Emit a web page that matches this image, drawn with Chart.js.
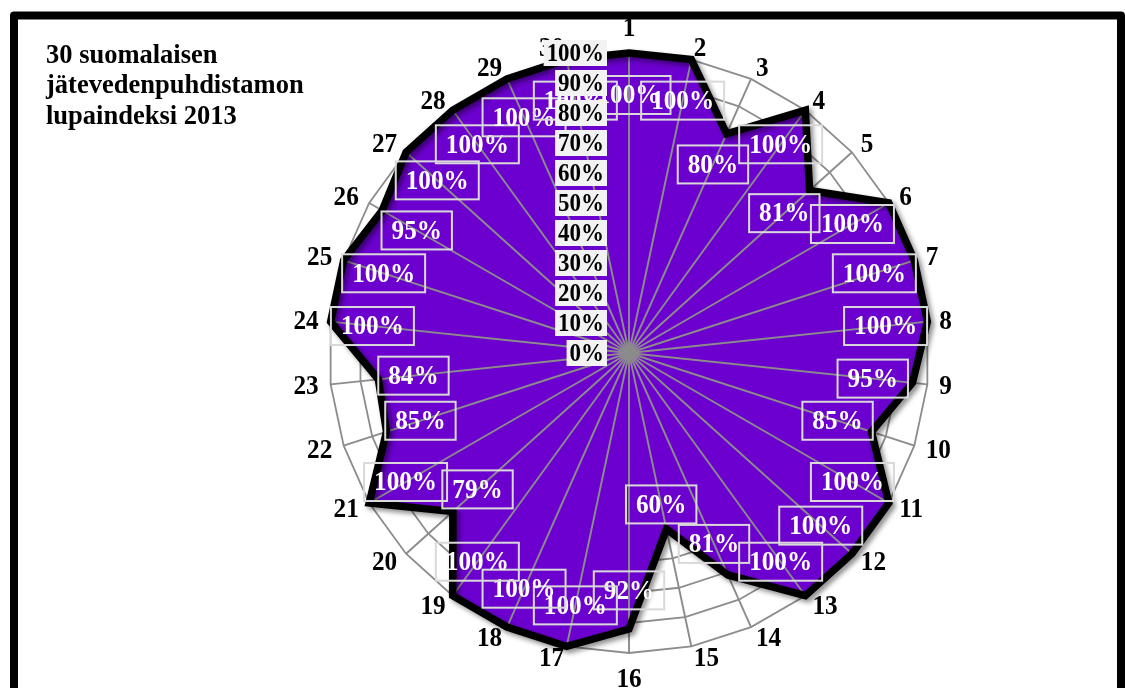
<!DOCTYPE html>
<html>
<head>
<meta charset="utf-8">
<script src="https://cdn.jsdelivr.net/npm/chart.js@4.4.0/dist/chart.umd.min.js"></script>
<style>
html,body{margin:0;padding:0;background:#ffffff;overflow:hidden;}
#wrap{width:1125px;height:688px;position:relative;}
</style>
</head>
<body>
<div id="wrap"><canvas id="c" width="1125" height="688"></canvas></div>
<script>
// ---- data ----
const categories = ['1','2','3','4','5','6','7','8','9','10','11','12','13','14','15',
                    '16','17','18','19','20','21','22','23','24','25','26','27','28','29','30'];
const values = [100,100,80,100,81,100,100,100,95,85,100,100,100,81,60,
                92,100,100,100,79,100,85,84,100,100,95,100,100,100,100];
const tickValues = [0,10,20,30,40,50,60,70,80,90,100];
const tickLabels = ['0%','10%','20%','30%','40%','50%','60%','70%','80%','90%','100%'];
const titleLines = ['30 suomalaisen','jätevedenpuhdistamon','lupaindeksi 2013'];

const SERIF = '"Liberation Serif", "Times New Roman", serif';
const PURPLE = '#6c00cf';
const GRID = '#8c8c8c';

function textWidth(ctx, txt, size, sx) {
  ctx.save();
  ctx.font = 'bold ' + size + 'px ' + SERIF;
  const w = ctx.measureText(txt).width * sx;
  ctx.restore();
  return w;
}
function drawText(ctx, txt, x, y, size, sx, align, color) {
  ctx.save();
  ctx.font = 'bold ' + size + 'px ' + SERIF;
  ctx.textAlign = align;
  ctx.textBaseline = 'middle';
  ctx.fillStyle = color;
  ctx.translate(x, y);
  ctx.scale(sx, 1);
  ctx.fillText(txt, 0, 0);
  ctx.restore();
}

function drawRings(chart) {
  const s = chart.scales.r;
  const ctx = chart.ctx;
  const n = categories.length;
  ctx.save();
  ctx.strokeStyle = GRID;
  ctx.lineWidth = 1.8;
  ctx.lineJoin = 'miter';
  for (const v of tickValues) {
    if (v === 0) continue;
    const d = s.getDistanceFromCenterForValue(v);
    ctx.beginPath();
    for (let i = 0; i < n; i++) {
      const p = s.getPointPosition(i, d);
      if (i === 0) ctx.moveTo(p.x, p.y); else ctx.lineTo(p.x, p.y);
    }
    ctx.closePath();
    ctx.stroke();
  }
  ctx.restore();
}

function drawSpokes(chart) {
  const s = chart.scales.r;
  const ctx = chart.ctx;
  const n = categories.length;
  ctx.save();
  ctx.strokeStyle = GRID;
  ctx.lineWidth = 1.9;
  for (let i = 0; i < n; i++) {
    const p = s.getPointPosition(i, s.drawingArea);
    ctx.beginPath();
    ctx.moveTo(s.xCenter, s.yCenter);
    ctx.lineTo(p.x, p.y);
    ctx.stroke();
  }
  ctx.restore();
}

const customPlugin = {
  id: 'custom',
  beforeDraw(chart) {
    const ctx = chart.ctx;
    ctx.save();
    ctx.fillStyle = '#ffffff';
    ctx.fillRect(0, 0, chart.width, chart.height);
    // outer frame
    ctx.strokeStyle = '#000000';
    ctx.lineWidth = 8;
    ctx.lineJoin = 'round';
    ctx.strokeRect(14, 15.5, 1107, 700);
    // title
    ctx.fillStyle = '#000000';
    ctx.font = 'bold 26.5px ' + SERIF;
    ctx.textAlign = 'left';
    ctx.textBaseline = 'alphabetic';
    titleLines.forEach((t, k) => ctx.fillText(t, 46, 62.5 + k * 30.7));
    ctx.restore();
  },
  beforeDatasetsDraw(chart) {
    drawRings(chart);
  },
  beforeDatasetDraw(chart, args) {
    if (args.index === 1) {
      const ctx = chart.ctx;
      ctx.save();
      ctx.shadowColor = 'rgba(0,0,0,0.45)';
      ctx.shadowBlur = 5;
      ctx.shadowOffsetX = 3;
      ctx.shadowOffsetY = 3;
    }
  },
  afterDatasetDraw(chart, args) {
    if (args.index === 0) drawSpokes(chart);
    if (args.index === 1) chart.ctx.restore();
  },
  afterDatasetsDraw(chart) {
    const s = chart.scales.r;
    const ctx = chart.ctx;
    const n = categories.length;
    ctx.save();
    // point (category) labels
    for (let i = 0; i < n; i++) {
      const a = s.getIndexAngle(i) * 180 / Math.PI;
      const p = s.getPointPosition(i, s.drawingArea + 12);
      let y = p.y, align;
      if (a < 0.5 || a > 359.5) { align = 'center'; y -= 13; }
      else if (Math.abs(a - 180) < 0.5) { align = 'center'; y += 14; }
      else if (a < 180) align = 'left';
      else align = 'right';
      drawText(ctx, categories[i], p.x, y + 1, 28, 0.9, align, '#000000');
    }
    // data labels
    for (let i = 0; i < n; i++) {
      const p = s.getPointPositionForValue(i, values[i] * 0.86);
      const txt = values[i] + '%';
      const w = textWidth(ctx, txt, 28, 0.9) + 20;
      const h = 38;
      ctx.strokeStyle = '#d9d9d9';
      ctx.lineWidth = 2;
      ctx.strokeRect(p.x - w / 2, p.y - h / 2, w, h);
      drawText(ctx, txt, p.x, p.y + 1, 28, 0.9, 'center', '#ffffff');
    }
    // tick labels
    const xr = s.xCenter - 25;
    tickValues.forEach((v, k) => {
      const y = s.yCenter - s.getDistanceFromCenterForValue(v);
      const w = textWidth(ctx, tickLabels[k], 25.5, 0.9);
      ctx.fillStyle = '#f2f2f2';
      ctx.fillRect(xr - w - 3, y - 13, w + 6, 26);
      drawText(ctx, tickLabels[k], xr, y + 1, 25.5, 0.9, 'right', '#000000');
    });
    ctx.restore();
  }
};

new Chart(document.getElementById('c'), {
  type: 'radar',
  data: {
    labels: categories,
    datasets: [
      {
        data: values,
        order: 2,
        fill: true,
        backgroundColor: PURPLE,
        borderWidth: 0,
        borderColor: 'rgba(0,0,0,0)',
        pointRadius: 0,
        clip: false
      },
      {
        data: values,
        order: 1,
        fill: false,
        backgroundColor: 'rgba(0,0,0,0)',
        borderColor: '#000000',
        borderWidth: 7.5,
        borderJoinStyle: 'miter',
        pointRadius: 0,
        clip: false
      }
    ]
  },
  options: {
    responsive: false,
    animation: false,
    devicePixelRatio: 1,
    elements: { line: { tension: 0 } },
    layout: { padding: { left: 329, right: 196, top: 53, bottom: 35 } },
    plugins: {
      legend: { display: false },
      tooltip: { enabled: false },
      title: { display: false }
    },
    scales: {
      r: {
        min: 0,
        max: 100,
        startAngle: 0,
        ticks: { display: false, stepSize: 10 },
        grid: { display: false },
        angleLines: { display: false },
        pointLabels: { display: false }
      }
    }
  },
  plugins: [customPlugin]
});
</script>
</body>
</html>
